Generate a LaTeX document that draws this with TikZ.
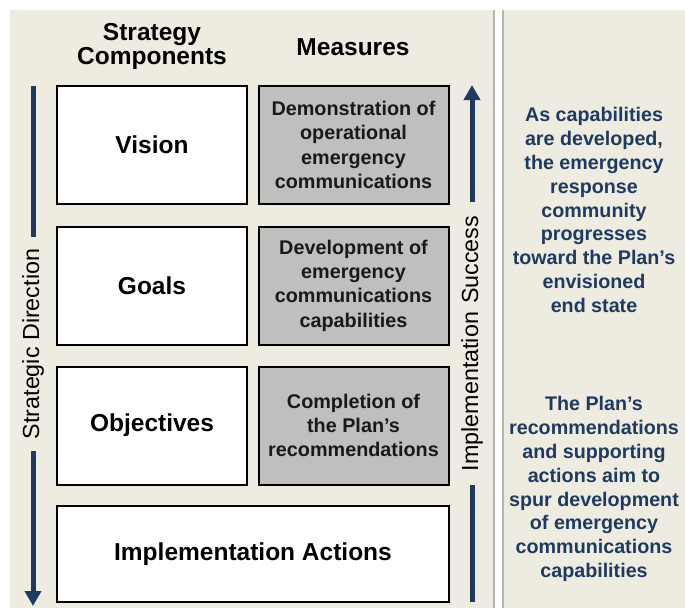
\documentclass[tikz,border=0pt]{standalone}
\usepackage{fontspec}
\setmainfont{Liberation Sans}
\usetikzlibrary{arrows.meta}
\definecolor{beige}{HTML}{EEEBE1}
\definecolor{navy}{HTML}{1F3A60}
\definecolor{measgray}{HTML}{BFBFBF}
\definecolor{edgegray}{HTML}{B4B4B4}
\tikzset{
  compbox/.style={draw=black, line width=2pt, fill=white, minimum width=190pt, minimum height=118pt, inner sep=0pt,
    font=\bfseries\fontsize{24.5pt}{29pt}\selectfont},
  measbox/.style={draw=black, line width=2pt, fill=measgray, minimum width=190pt, minimum height=118pt, inner sep=0pt, align=center,
    font=\bfseries\fontsize{19.8pt}{24.3pt}\selectfont, text=black!90},
  header/.style={align=center, font=\bfseries\fontsize{24.5pt}{21pt}\selectfont},
  sidetext/.style={align=center, text=navy, font=\bfseries\fontsize{19.7pt}{23.8pt}\selectfont},
  vlabel/.style={rotate=90, inner ysep=0pt, inner xsep=12pt, font=\fontsize{23.3pt}{27pt}\selectfont},
  vline/.style={draw=navy, line width=5pt},
  vtip/.style={-{Triangle[width=16pt,length=15pt]}}
}
\begin{document}
\begin{tikzpicture}[x=1pt,y=-1pt]
\useasboundingbox (0,0) rectangle (685,608);
% panels
\fill[beige] (10,10) rectangle (494,608);
\draw[edgegray, line width=1.2pt] (494,10) -- (494,608);
\fill[beige] (503,10) rectangle (685,608);
\draw[edgegray, line width=1.2pt] (503,10) -- (503,608);

% headers
\node[header] (hcomp) at (152,46.5) {Strategy\\Components};
\node[header] (hmeas) at (353,47) {Measures};

% component boxes
\node[compbox] (vision) at (152,145) {Vision};
\node[compbox] (goals) at (152,285.5) {Goals};
\node[compbox] (obj) at (152,425.5) {Objectives};
\node[compbox, minimum width=392pt, minimum height=96pt] (impl) at (253,554) {Implementation Actions};

% measure boxes
\node[measbox] (m1) at (353.5,145) {Demonstration of\\operational\\emergency\\communications};
\node[measbox] (m2) at (353.5,285.5) {Development of\\emergency\\communications\\capabilities};
\node[measbox] (m3) at (353.5,425.5) {Completion of\\the Plan’s\\recommendations};

% strategic direction arrow
\coordinate (sdtop) at (33,86);
\coordinate (sdbot) at (33,606);
\node[vlabel] (sd) at (33,344) {Strategic Direction};
\draw[vline] (sdtop) -- (sd.east);
\draw[vline, vtip] (sd.west) -- (sdbot);

% implementation success arrow
\coordinate (istop) at (472,85);
\coordinate (isbot) at (472,602);
\node[vlabel, inner xsep=14pt] (is) at (472,343.5) {Implementation\hspace{0.35em}Success};
\draw[vline, vtip] (is.east) -- (istop);
\draw[vline] (is.west) -- (isbot);

% side texts
\node[sidetext] (t1) at (594,210) {As capabilities\\are developed,\\the emergency\\response\\community\\progresses\\toward the Plan’s\\envisioned\\end state};
\node[sidetext] (t2) at (594,489) {The Plan’s\\recommendations\\and supporting\\actions aim to\\spur development\\of emergency\\communications\\capabilities};
\end{tikzpicture}
\end{document}
